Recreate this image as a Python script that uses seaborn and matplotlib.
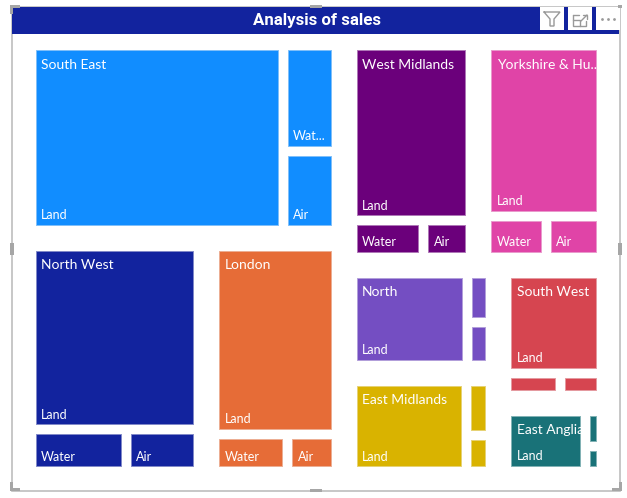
import matplotlib
matplotlib.use("Agg")
import matplotlib.pyplot as plt
import seaborn as sns
from matplotlib.patches import Rectangle

# ==========================================
# 1. DATA (sales, read from the tile areas)
# ==========================================
regions = ["South East", "North West", "London", "West Midlands", "Yorkshire & Hu...",
           "North", "East Midlands", "South West", "East Anglia"]
land = [534, 361.6, 277, 255, 241, 139, 136.5, 125.5, 70.7]
water = [64, 47, 33, 32, 30, 15, 17, 15.6, 8.4]
air = [48, 35.6, 22, 21, 28, 13, 11.5, 11.9, 5.9]

# what each tile shows once it is truncated by the visual
water_labels = ["Wat...", "Water", "Water", "Water", "Water", "", "", "", ""]
air_labels = ["Air", "Air", "Air", "Air", "Air", "", "", "", ""]

colors = ["#118DFF", "#12239E", "#E66C37", "#6B007B", "#E044A7",
          "#744EC2", "#D9B300", "#D64550", "#197278"]
palette = sns.color_palette(colors)

title = "Analysis of sales"

# how the treemap is nested: h = side by side, v = stacked
layout = ("h", [
    ("v", [0, ("h", [1, 2])]),
    ("v", [("h", [3, 4]), ("h", [("v", [5, 6]), ("v", [7, 8])])]),
])
# Land above Water/Air for wide groups, Land left of them for the others
land_on_left = [True, False, False, False, False, True, True, False, True]

# ==========================================
# 2. LAYOUT
# ==========================================
GROUP_PAD = 8
LEAF_PAD = 5
BOX = (22.5, 37, 586.7, 442)


def weight(node):
    if isinstance(node, int):
        return land[node] + water[node] + air[node]
    return sum(weight(c) for c in node[1])


def share(box, direction, weights):
    x, y, w, h = box
    total = sum(weights)
    out = []
    for v in weights:
        if direction == "h":
            out.append((x, y, w * v / total, h))
            x += w * v / total
        else:
            out.append((x, y, w, h * v / total))
            y += h * v / total
    return out


def place_groups(node, box, result):
    if isinstance(node, int):
        result[node] = box
        return
    boxes = share(box, node[0], [weight(c) for c in node[1]])
    for child, b in zip(node[1], boxes):
        place_groups(child, b, result)


def place_leaves(i, box):
    x, y, w, h = box
    inner = (x + GROUP_PAD, y + GROUP_PAD, w - 2 * GROUP_PAD, h - 2 * GROUP_PAD)
    if land_on_left[i]:
        first, rest = share(inner, "h", [land[i], water[i] + air[i]])
        second, third = share(rest, "v", [water[i], air[i]])
    else:
        first, rest = share(inner, "v", [land[i], water[i] + air[i]])
        second, third = share(rest, "h", [water[i], air[i]])
    return first, second, third


# ==========================================
# 3. DRAW
# ==========================================
sns.set_theme(style="white")
plt.rcParams["font.family"] = ["Lato", "DejaVu Sans"]

fig, ax = plt.subplots(figsize=(6.27, 4.98), dpi=100)
ax.set_position([0, 0, 1, 1])
ax.set_xlim(0, 627)
ax.set_ylim(498, 0)
ax.axis("off")

# visual frame and header
ax.add_patch(Rectangle((11.5, 6.5), 608, 484, fc="white", ec="#BDBDBD", lw=1.2))
ax.add_patch(Rectangle((12, 7), 607, 27, fc=colors[1], ec="none"))
ax.text(317, 20.5, title, color="white", fontsize=12.2, fontweight="bold",
        family="Roboto", ha="center", va="center")

groups = {}
place_groups(layout, BOX, groups)


def tile(cell, color):
    x, y, w, h = cell
    r = Rectangle((x + LEAF_PAD, y + LEAF_PAD), w - 2 * LEAF_PAD, h - 2 * LEAF_PAD,
                  fc=color, ec=sns.light_palette(color, 3)[1], lw=0.7)
    ax.add_patch(r)
    return r


for i, region in enumerate(regions):
    cells = place_leaves(i, groups[i])
    col = palette[i]
    land_rect = tile(cells[0], col)
    water_rect = tile(cells[1], col)
    air_rect = tile(cells[2], col)

    x0, y0 = land_rect.get_xy()
    t = ax.text(x0 + 5.5, y0 + 14.5, region, color="white", fontsize=10, va="center")
    t.set_clip_path(land_rect)
    ax.text(x0 + 5.5, y0 + land_rect.get_height() - 9.5, "Land", color="white",
            fontsize=9, va="center")

    for rect, label in ((water_rect, water_labels[i]), (air_rect, air_labels[i])):
        if label:
            rx, ry = rect.get_xy()
            ax.text(rx + 5.5, ry + rect.get_height() - 9.5, label, color="white",
                    fontsize=9, va="center")

# header buttons
for bx, bw in ((540, 24), (568, 24), (596, 23.5)):
    ax.add_patch(Rectangle((bx, 7), bw, 23, fc="white", ec="none", zorder=3))
icon = dict(color="#999999", lw=1, zorder=4, solid_joinstyle="miter")
ax.plot([544, 560, 554, 554, 550, 550, 544], [12, 12, 19, 26, 26, 19, 12], **icon)
ax.plot([573, 573, 586, 586], [15, 26, 26, 21], **icon)
ax.plot([573, 579], [15, 15], **icon)
ax.plot([573, 580, 580], [20, 20, 26], **icon)
ax.plot([581, 587], [21, 15], **icon)
ax.plot([583, 587, 587], [15, 15, 19], **icon)
ax.scatter([602, 608, 614], [19, 19, 19], s=4, color="#999999", zorder=4, linewidths=0)

# selection handles
grey = "#A6A6A6"
for hx, hy, hw, hh in [(10, 5, 10, 3), (10, 5, 3, 9), (310, 5, 12, 3),
                       (10, 243, 4, 12), (618, 243, 4, 12), (310, 489, 12, 3),
                       (10, 488, 10, 3), (10, 482, 3, 9), (612, 488, 10, 3),
                       (619, 482, 3, 9), (618, 5, 4, 3)]:
    ax.add_patch(Rectangle((hx, hy), hw, hh, fc=grey, ec="none", zorder=5))

plt.savefig("out.png", dpi=100)
